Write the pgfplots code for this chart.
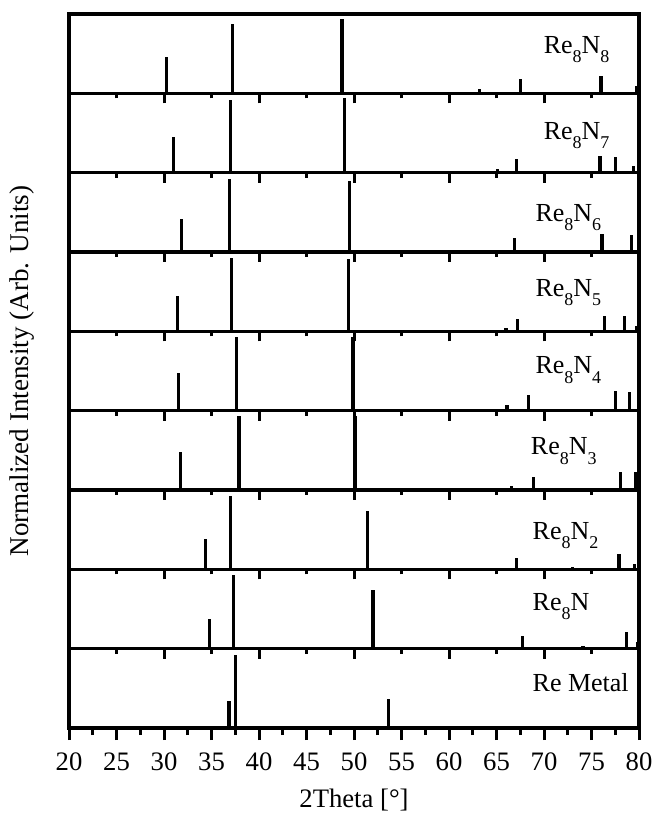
\documentclass[border=0pt]{standalone}
\usepackage{fontspec}
\setmainfont{Liberation Serif}
\usepackage{pgfplots}
\pgfplotsset{compat=1.18}
\pgfplotsset{
  panel/.style={
    scale only axis, width=427.5pt, height=59.5pt,
    xmin=20, xmax=80, ymin=0, ymax=1, ytick=\empty,
    axis line style={line width=2.5pt},
    tick style={line width=2.25pt, black},
    tick align=outside, xtick pos=bottom,
    xtick={30,40,50,60,70}, minor xtick={25,35,45,55,65,75},
    major tick length=7.5pt, minor tick length=3.75pt,
    xticklabels={}, anchor=south west,
    /pgf/number format/assume math mode=true,
  },
  pk/.style={ycomb, line width=2.4pt, black, mark=none},
}
\tikzset{lab/.style={anchor=base west, inner sep=0pt, font=\fontsize{19.5}{22}\selectfont}}
\newcommand{\sub}[1]{\raisebox{-7pt}{\fontsize{13.5}{14}\selectfont #1}}
\begin{document}
\begin{tikzpicture}
\useasboundingbox (-51.75pt,-66pt) rectangle (438.75pt,546pt);
% Re8N8
\begin{axis}[panel, at={(0,476pt)}]
\addplot[pk] coordinates {(30.24,0.46) (37.23,0.87) (48.74,0.94) (63.2,0.06) (67.5,0.18) (76.0,0.22) (79.7,0.09)};
\node[lab] at (rel axis cs:0.8325,0.502) {Re\sub{8}N\sub{8}};
\end{axis}
% Re8N7
\begin{axis}[panel, at={(0,416.5pt)}]
\addplot[pk] coordinates {(31.0,0.45) (37.0,0.92) (49.0,0.945) (65.1,0.04) (67.1,0.17) (75.9,0.21) (77.5,0.20) (79.4,0.08)};
\node[lab] at (rel axis cs:0.8325,0.424) {Re\sub{8}N\sub{7}};
\end{axis}
% Re8N6
\begin{axis}[panel, at={(0,357pt)}]
\addplot[pk] coordinates {(31.8,0.42) (36.9,0.925) (49.5,0.90) (66.9,0.18) (76.1,0.23) (79.2,0.21)};
\node[lab] at (rel axis cs:0.818,0.387) {Re\sub{8}N\sub{6}};
\end{axis}
% Re8N5
\begin{axis}[panel, at={(0,297.5pt)}]
\addplot[pk] coordinates {(31.4,0.45) (37.1,0.925) (49.4,0.91) (66.0,0.04) (67.25,0.15) (76.4,0.19) (78.5,0.19) (79.7,0.07)};
\node[lab] at (rel axis cs:0.818,0.445) {Re\sub{8}N\sub{5}};
\end{axis}
% Re8N4
\begin{axis}[panel, at={(0,238pt)},
  ylabel={Normalized Intensity (Arb. Units)},
  ylabel style={at={(axis description cs:-0.0825,0.5)}, anchor=center, font=\fontsize{20.3}{22}\selectfont}]
\addplot[pk] coordinates {(31.5,0.48) (37.65,0.93) (49.9,0.93) (66.1,0.07) (68.4,0.195) (77.5,0.25) (79.0,0.24)};
\node[lab] at (rel axis cs:0.818,0.464) {Re\sub{8}N\sub{4}};
\end{axis}
% Re8N3
\begin{axis}[panel, at={(0,178.5pt)}]
\addplot[pk] coordinates {(31.7,0.48) (37.9,0.93) (50.1,0.93) (66.6,0.05) (68.9,0.16) (78.05,0.23) (79.6,0.23)};
\node[lab] at (rel axis cs:0.810,0.445) {Re\sub{8}N\sub{3}};
\end{axis}
% Re8N2
\begin{axis}[panel, at={(0,119pt)}]
\addplot[pk] coordinates {(34.4,0.38) (37.0,0.93) (51.4,0.74) (67.1,0.145) (73.0,0.03) (77.9,0.19) (79.5,0.07)};
\node[lab] at (rel axis cs:0.813,0.382) {Re\sub{8}N\sub{2}};
\end{axis}
% Re8N
\begin{axis}[panel, at={(0,59.5pt)}]
\addplot[pk] coordinates {(34.8,0.37) (37.3,0.93) (52.0,0.74) (67.7,0.16) (74.1,0.03) (78.7,0.21) (79.8,0.09)};
\node[lab] at (rel axis cs:0.813,0.483) {Re\sub{8}N};
\end{axis}
% Re Metal
\begin{axis}[panel, at={(0,0pt)},
  xtick={20,25,...,80}, minor xtick={22.5,27.5,...,77.5},
  major tick length=9pt, minor tick length=5.25pt,
  xticklabels={20,25,30,35,40,45,50,55,60,65,70,75,80},
  xticklabel style={font=\fontsize{20}{22}\selectfont, yshift=-6pt},
  xlabel={2Theta [°]},
  xlabel style={font=\fontsize{20}{22}\selectfont, at={(axis description cs:0.5,0)}, anchor=center, yshift=-54pt}]
\addplot[pk] coordinates {(36.85,0.335) (37.5,0.925) (53.65,0.36) (68.0,0.03) (78.6,0.02) (79.8,0.03)};
\node[lab] at (rel axis cs:0.813,0.458) {Re Metal};
\end{axis}
\end{tikzpicture}
\end{document}
